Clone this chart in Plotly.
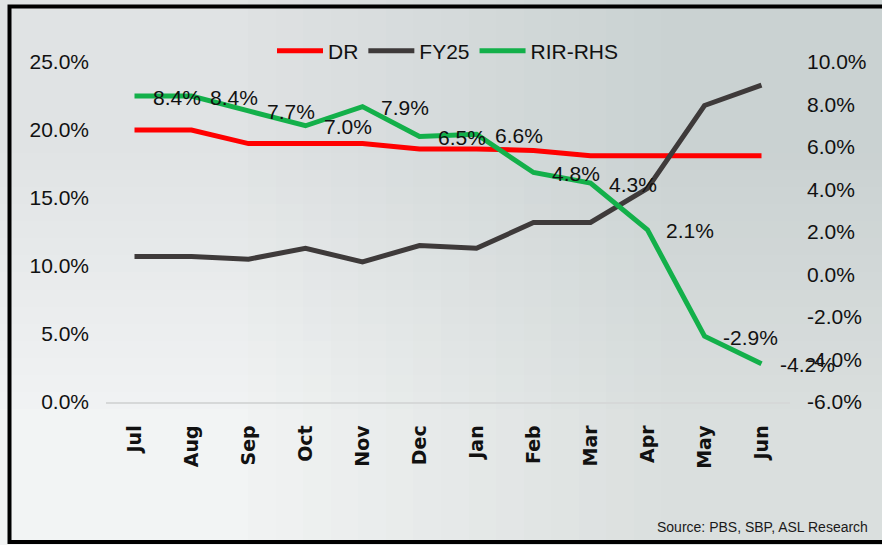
import base64
import struct
import zlib

import plotly.graph_objects as go

months = ["Jul", "Aug", "Sep", "Oct", "Nov", "Dec", "Jan", "Feb", "Mar", "Apr", "May", "Jun"]
dr = [20.0, 20.0, 19.0, 19.0, 19.0, 18.6, 18.6, 18.5, 18.1, 18.1, 18.1, 18.1]
fy25 = [10.7, 10.7, 10.5, 11.3, 10.3, 11.5, 11.3, 13.2, 13.2, 15.7, 21.8, 23.3]
rir = [8.4, 8.4, 7.7, 7.0, 7.9, 6.5, 6.6, 4.8, 4.3, 2.1, -2.9, -4.2]

left_ticks = [0, 5, 10, 15, 20, 25]
right_ticks = [-6, -4, -2, 0, 2, 4, 6, 8, 10]

FONT = "Liberation Sans, Arial, sans-serif"
RED = "#ff0000"
GREY = "#3e3a3a"
GREEN = "#13b04a"


def gradient_png(corners):
    # tiny 2x2 png, stretched by the browser into a soft background gradient
    rows = [corners[0] + corners[1], corners[2] + corners[3]]
    raw = b"".join(b"\x00" + bytes(r) for r in rows)

    def chunk(tag, data):
        return struct.pack(">I", len(data)) + tag + data + struct.pack(">I", zlib.crc32(tag + data) & 0xFFFFFFFF)

    png = (b"\x89PNG\r\n\x1a\n" + chunk(b"IHDR", struct.pack(">IIBBBBB", 2, 2, 8, 2, 0, 0, 0))
           + chunk(b"IDAT", zlib.compress(raw)) + chunk(b"IEND", b""))
    return "data:image/png;base64," + base64.b64encode(png).decode()


W, H = 882, 545
L, R, T, B = 106, 92, 62, 143
pw, ph = W - L - R, H - T - B

fig = go.Figure()
fig.add_trace(go.Scatter(x=months, y=dr, name="DR", mode="lines",
                         line=dict(color=RED, width=5)))
fig.add_trace(go.Scatter(x=months, y=fy25, name="FY25", mode="lines",
                         line=dict(color=GREY, width=5)))
fig.add_trace(go.Scatter(x=months, y=rir, name="RIR-RHS", mode="lines", yaxis="y2",
                         line=dict(color=GREEN, width=5)))

for m, v in zip(months, rir):
    fig.add_annotation(x=m, y=v, yref="y2", text=f"{v:.1f}%", showarrow=False,
                       xanchor="left", yanchor="middle", xshift=16, yshift=-1,
                       font=dict(family=FONT, size=21, color="#111111"))

fig.add_annotation(text="Source: PBS, SBP, ASL Research", xref="paper", yref="paper",
                   x=(870 - L) / pw, y=(H - B - 527) / ph, xanchor="right", yanchor="middle",
                   showarrow=False, font=dict(family=FONT, size=14, color="#1a1a1a"))

# outer black frame
fig.add_shape(type="rect", xref="paper", yref="paper",
              x0=(9.5 - L) / pw, x1=(895 - L) / pw,
              y0=(H - B - 542) / ph, y1=(H - B - 6.5) / ph,
              line=dict(color="black", width=4), layer="above")

fig.add_layout_image(source=gradient_png([(224, 227, 228), (202, 210, 210),
                                          (242, 244, 244), (218, 223, 222)]),
                     xref="paper", yref="paper", x=-L / pw, y=(H - B) / ph,
                     sizex=W / pw, sizey=H / ph, sizing="stretch", layer="below")

fig.update_layout(
    width=W, height=H, autosize=False,
    margin=dict(l=L, r=R, t=T, b=B, autoexpand=False),
    paper_bgcolor="#e6e9ea",
    plot_bgcolor="rgba(0,0,0,0)",
    showlegend=True,
    legend=dict(orientation="h", x=0.5, xanchor="center", y=1 + 11 / ph, yanchor="middle",
                itemwidth=46, bgcolor="rgba(0,0,0,0)",
                font=dict(family=FONT, size=21, color="#111111")),
    xaxis=dict(range=[-0.5, len(months) - 0.5], tickangle=-90, showgrid=False, showline=True,
               linecolor="#d6d8d8", linewidth=1.5, ticks="", ticklabelstandoff=14, automargin=False,
               tickfont=dict(family="DejaVu Sans", size=19, color="#111111", weight="bold")),
    yaxis=dict(range=[0, 25], tickvals=left_ticks, ticktext=[f"{v:.1f}%" for v in left_ticks],
               showgrid=False, zeroline=False, ticks="", ticklabelstandoff=16, automargin=False,
               tickfont=dict(family=FONT, size=21, color="#111111")),
    yaxis2=dict(range=[-6, 10], overlaying="y", side="right", tickvals=right_ticks,
                ticktext=[f"{v:.1f}%" for v in right_ticks], automargin=False,
                showgrid=False, zeroline=False, ticks="", ticklabelstandoff=16,
                tickfont=dict(family=FONT, size=21, color="#111111")),
)

fig.write_html("out.html", config={"displayModeBar": False},
               post_script="document.body.style.margin = '0';")
